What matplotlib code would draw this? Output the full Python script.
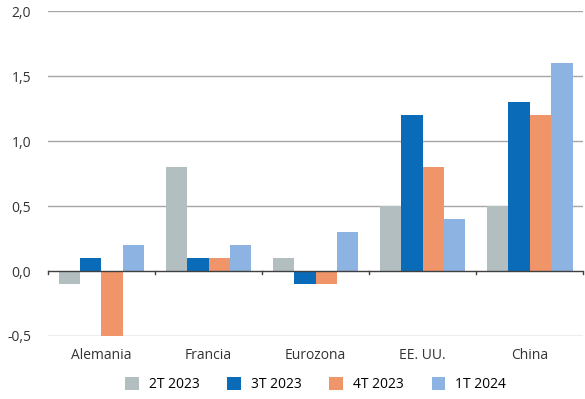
import numpy as np
import matplotlib.pyplot as plt

plt.rcParams['font.family'] = ['Open Sans', 'DejaVu Sans']

categories = ['Alemania', 'Francia', 'Eurozona', 'EE. UU.', 'China']
series_names = ['2T 2023', '3T 2023', '4T 2023', '1T 2024']
q2_2023 = [-0.1, 0.8, 0.1, 0.5, 0.5]
q3_2023 = [0.1, 0.1, -0.1, 1.2, 1.3]
q4_2023 = [-0.5, 0.1, -0.1, 0.8, 1.2]
q1_2024 = [0.2, 0.2, 0.3, 0.4, 1.6]
series = [q2_2023, q3_2023, q4_2023, q1_2024]
colors = ['#B3BEC1', '#0A6BB8', '#F0956A', '#8DB3E2']

fig = plt.figure(figsize=(5.85, 3.99), dpi=100)
ax = fig.add_axes([0.082, 0.158, 0.915, 0.814])

x = np.arange(len(categories))
w = 0.2
for i, (vals, name, c) in enumerate(zip(series, series_names, colors)):
    ax.bar(x + (i - 1.5) * w, vals, width=w, color=c, label=name, zorder=3)

ax.set_xlim(-0.5, len(categories) - 0.5)
ax.set_ylim(-0.5, 2.0)
ax.set_yticks([-0.5, 0.0, 0.5, 1.0, 1.5, 2.0])
ax.set_yticklabels(['-0,5', '0,0', '0,5', '1,0', '1,5', '2,0'])
for y in [-0.5, 0.5, 1.0, 1.5, 2.0]:
    ax.axhline(y, color='#A6A6A6', linewidth=1.0, zorder=1)
ax.axhline(0, color='#404040', linewidth=1.0, zorder=4)
# little ticks on the zero line between groups
for b in np.arange(-0.5, len(categories), 1.0):
    ax.plot([b, b], [0, -0.02], color='#404040', linewidth=1.0, zorder=4, clip_on=False)

for s in ax.spines.values():
    s.set_visible(False)
ax.tick_params(axis='both', length=0, labelsize=10, colors='#333333')
ax.tick_params(axis='x', pad=9)
ax.tick_params(axis='y', pad=12)
ax.set_xticks(x)
ax.set_xticklabels(categories)

ax.legend(loc='center', bbox_to_anchor=(0.5, -0.15), ncol=4, frameon=False,
          fontsize=10, handlelength=1.0, handleheight=1.0, columnspacing=2.0, handletextpad=0.7)

plt.savefig('out.png', dpi=100)
